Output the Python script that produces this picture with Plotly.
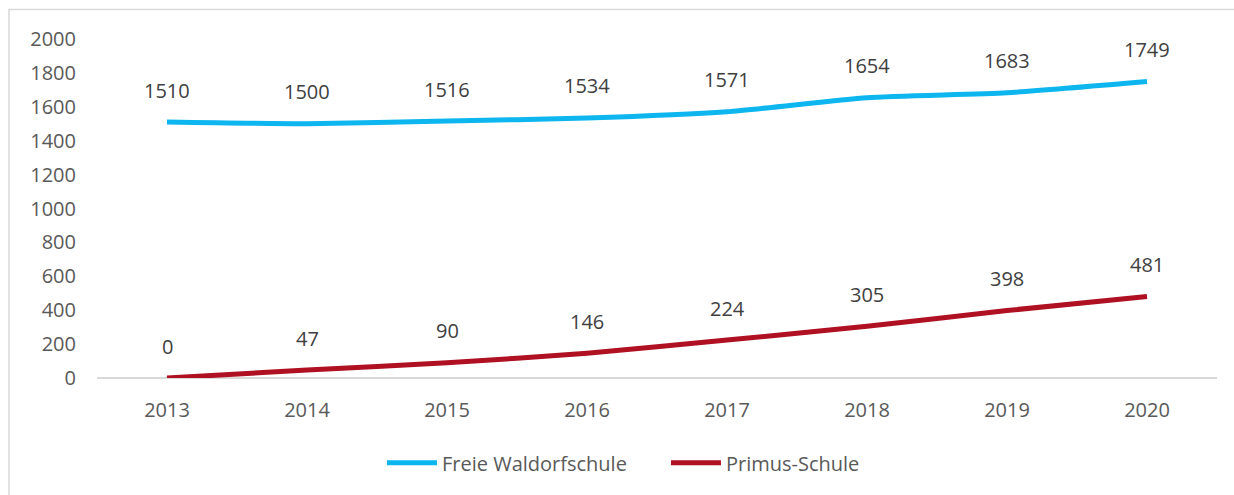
import plotly.graph_objects as go

years = ["2013", "2014", "2015", "2016", "2017", "2018", "2019", "2020"]
waldorf = [1510, 1500, 1516, 1534, 1571, 1654, 1683, 1749]
primus = [0, 47, 90, 146, 224, 305, 398, 481]
y_ticks = [0, 200, 400, 600, 800, 1000, 1200, 1400, 1600, 1800, 2000]

W, H = 1234, 495
L, R, T, B = 97, 17, 39, 117
FONT = "Open Sans"
TXT = "#595959"
BLUE = "#0DB6EE"
RED = "#AF1022"
FS = 20

fig = go.Figure()
fig.add_trace(go.Scatter(x=years, y=waldorf, name="Freie Waldorfschule", mode="lines",
                         line=dict(color=BLUE, width=5, shape="spline", smoothing=0.6)))
fig.add_trace(go.Scatter(x=years, y=primus, name="Primus-Schule", mode="lines",
                         line=dict(color=RED, width=5, shape="spline", smoothing=0.6)))

for series in (waldorf, primus):
    for i, v in enumerate(series):
        fig.add_annotation(x=i, y=v, xref="x", yref="y", text=str(v), showarrow=False,
                           yshift=32, font=dict(family=FONT, size=FS, color="#404040"))

pw = W - L - R
ph = H - T - B
fig.add_shape(type="rect", xref="paper", yref="paper",
              x0=(9 - L) / pw, x1=(W + 5 - L) / pw,
              y0=-(H + 5 - T - ph) / ph, y1=1 + (T - 9.5) / ph,
              line=dict(color="#D9D9D9", width=1.5), fillcolor="rgba(0,0,0,0)", layer="below")

fig.update_layout(
    width=W, height=H,
    margin=dict(l=L, r=R, t=T, b=B),
    paper_bgcolor="white", plot_bgcolor="white",
    font=dict(family=FONT, size=FS, color=TXT),
    showlegend=True,
    legend=dict(orientation="h", x=0.508, xanchor="center", y=-0.25, yanchor="middle",
                font=dict(family=FONT, size=FS, color=TXT), itemwidth=50,
                entrywidth=219, entrywidthmode="pixels",
                traceorder="normal"),
    xaxis=dict(type="category", range=[-0.5, 7.5], showgrid=False, zeroline=False,
               showline=False, ticks="", ticklabelstandoff=18,
               tickfont=dict(family=FONT, size=FS, color=TXT)),
    yaxis=dict(range=[0, 2000], tickvals=y_ticks, showgrid=False, zeroline=True,
               zerolinecolor="#D9D9D9", zerolinewidth=2, showline=False, ticks="",
               ticklabelstandoff=20, tickfont=dict(family=FONT, size=FS, color=TXT)),
)

fig.write_html("out.html", config={"displayModeBar": False},
               post_script="document.body.style.margin='0';document.body.style.overflow='hidden';")
